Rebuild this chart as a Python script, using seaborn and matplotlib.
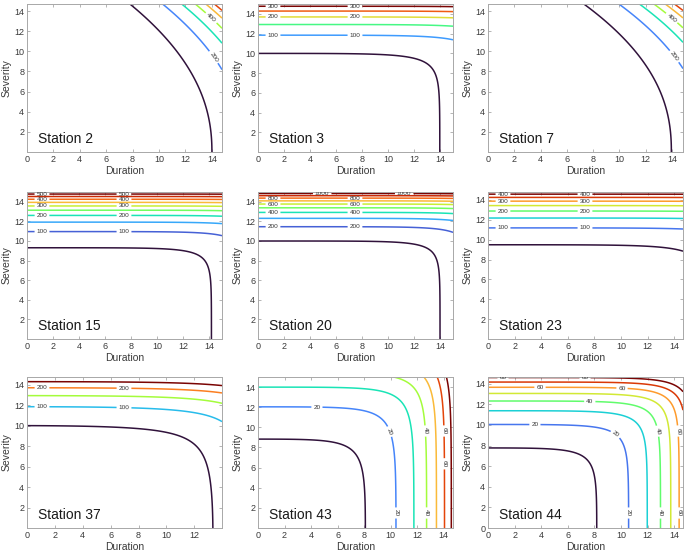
import numpy as np
import matplotlib
matplotlib.use("Agg")
import matplotlib.pyplot as plt
import seaborn as sns

# Joint (AND) return period of drought duration/severity, Gumbel copula fit per station
stations = ["Station 2", "Station 3", "Station 7",
            "Station 15", "Station 20", "Station 23",
            "Station 37", "Station 43", "Station 44"]
mu = [1.98, 1.18, 2.66, 1.0, 0.865, 1.04, 1.18, 0.88, 0.94]   # mean interarrival time
dur_scale = [3.571, 2.793, 3.85, 3.527, 2.479, 3.19, 3.65, 3.33, 3.455]
dur_shape = [1.0, 0.82, 1.0, 0.98, 0.90, 0.83, 1.02, 1.0, 1.0]
sev_scale = [11.43, 2.667, 11.58, 2.38, 2.105, 2.45, 2.667, 2.95, 3.285]
sev_shape = [2.2, 1.0, 2.3, 1.0, 1.0, 1.0, 1.0, 0.81, 1.0]
theta = [1.0, 3.0, 1.0, 3.0, 2.8, 3.0, 2.0, 3.0, 3.0]
level_step = [100, 50, 100, 50, 100, 50, 50, 10, 10]
level_top = [700, 300, 700, 500, 1000, 400, 250, 70, 80]
dur_max = [14.77, 15.0, 14.85, 15.0, 15.0, 14.65, 13.98, 14.7, 14.65]
sev_max = [14.7, 15.0, 14.7, 15.0, 15.0, 14.8, 14.74, 15.0, 14.65]


def and_return_period(d, s, i):
    a = np.exp(-(d / dur_scale[i]) ** dur_shape[i])   # P(D > d)
    b = np.exp(-(s / sev_scale[i]) ** sev_shape[i])   # P(S > s)
    with np.errstate(divide="ignore", invalid="ignore"):
        lu = -np.log1p(-a)
        lv = -np.log1p(-b)
        cop = np.exp(-(lu ** theta[i] + lv ** theta[i]) ** (1.0 / theta[i]))
    p = a + b - 1.0 + cop
    return mu[i] / np.clip(p, 1e-12, None)


def label_spots(ax, cs, idx, first=15.0, gap=82.0, tail=30.0):
    # MATLAB-like label spacing along each line (pixels), skipping crowded spots
    x0, y0 = ax.get_xlim()[0], ax.get_ylim()[0]
    spots, taken = [], []

    def crowded(px):
        return any(abs(px[0] - q[0]) < 18 and abs(px[1] - q[1]) < 5 for q in taken)

    for k in idx:
        for seg in cs.get_paths()[k].to_polygons(closed_only=False):
            if len(seg) < 2:
                continue
            on_bottom = np.isclose(seg[[0, -1], 1], y0, atol=0.05)
            on_left = np.isclose(seg[[0, -1], 0], x0, atol=0.05)
            if on_bottom.any():
                flip = not on_bottom[0]
            elif on_left.any():
                flip = not on_left[0]
            else:
                flip = seg[0, 0] < seg[-1, 0]
            if flip:
                seg = seg[::-1]
            pix = ax.transData.transform(seg)
            run = np.r_[0, np.cumsum(np.hypot(*np.diff(pix, axis=0).T))]
            if run[-1] < first + 8:
                continue
            for t in np.arange(first, max(run[-1] - tail, first + 1), gap):
                for tt in (t, t + 0.6 * gap):
                    if tt > run[-1] - 8:
                        break
                    px = (np.interp(tt, run, pix[:, 0]), np.interp(tt, run, pix[:, 1]))
                    if not crowded(px):
                        taken.append(px)
                        spots.append((np.interp(tt, run, seg[:, 0]),
                                      np.interp(tt, run, seg[:, 1])))
                        break
    return spots


sns.set_theme(style="ticks")
plt.rcParams["font.family"] = ["Liberation Sans", "DejaVu Sans"]

fig = plt.figure(figsize=(6.85, 5.56), dpi=100)
W, H = 685.0, 556.0
col_left = [27, 258, 488]
row_bottom = [152, 339, 528]
row_height = [148, 147, 151]
frame = "#a8a8a8"
txt = "#3a3a3a"

for i, name in enumerate(stations):
    r, c = divmod(i, 3)
    ax = fig.add_axes([col_left[c] / W, 1 - row_bottom[r] / H, 195 / W, row_height[r] / H])
    d = np.linspace(0, dur_max[i], 450)
    s = np.linspace(0, sev_max[i], 450)
    D, S = np.meshgrid(d, s)
    T = and_return_period(D, S, i)
    levels = np.arange(level_step[i], level_top[i] + 1, level_step[i])
    cs = ax.contour(D, S, T, levels=levels, cmap="turbo",
                    norm=plt.Normalize(levels[0], levels[-1]), linewidths=1.1)
    ax.set_xlim(0, dur_max[i])
    ax.set_ylim(0, sev_max[i])

    # every second level carries a label
    idx = list(range(1, len(levels), 2))
    spots = label_spots(ax, cs, idx)
    if spots:
        cs.clabel(manual=spots, inline=True, inline_spacing=2,
                  fmt="%d", fontsize=4.6, colors="#333333")

    ax.set_xticks([t for t in range(0, 15, 2) if t <= dur_max[i]])
    ax.set_yticks(list(range(0 if i == 8 else 2, 15, 2)))
    ax.tick_params(direction="in", top=True, right=True, length=2.5, width=0.6,
                   color=frame, labelsize=6.5, labelcolor=txt, pad=2)
    for sp in ax.spines.values():
        sp.set_color(frame)
        sp.set_linewidth(0.7)
    ax.set_xlabel("Duration", fontsize=7.5, color=txt, labelpad=1.5)
    ax.set_ylabel("Severity", fontsize=7.5, color=txt, labelpad=2)
    ax.text(0.055, 0.06, name, transform=ax.transAxes, fontsize=10, color="#1a1a1a")

fig.savefig("out.png", dpi=100)
